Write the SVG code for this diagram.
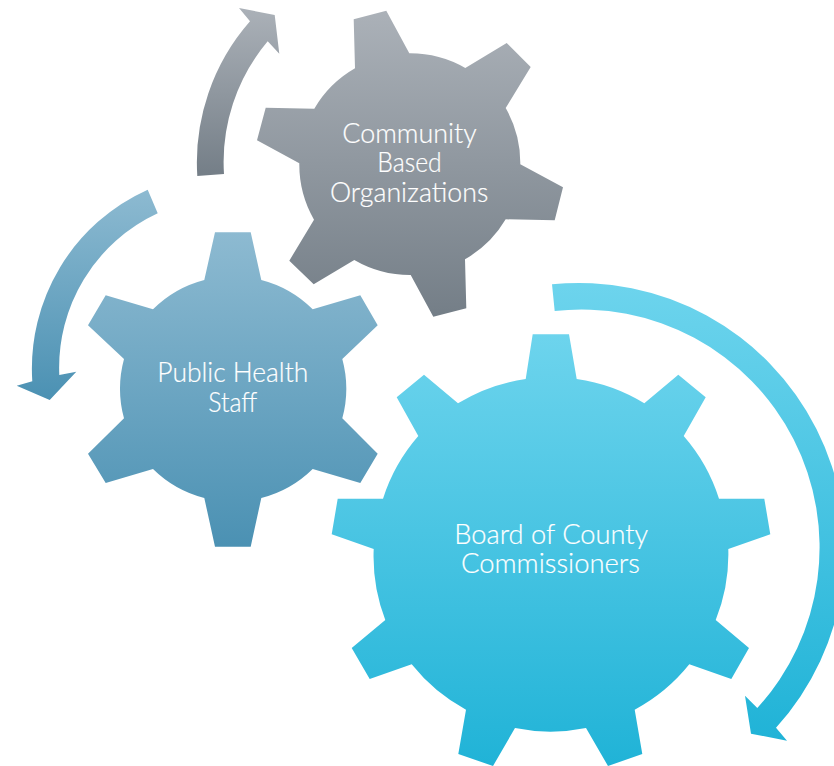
<svg xmlns="http://www.w3.org/2000/svg" width="834" height="766" viewBox="0 0 834 766">
<style>
.t{font-family:"Lato","Open Sans","Liberation Sans",sans-serif;font-size:27px;font-weight:300;fill:#fff;stroke:#fff;stroke-width:0.2px;}
.gray{fill:url(#gGray);}
.blue{fill:url(#gBlue);}
.light{fill:url(#gLight);}
</style>
<defs>
<linearGradient id="gGray" x1="0" y1="0" x2="0" y2="1"><stop offset="0" stop-color="#abb1b8"/><stop offset="1" stop-color="#747e87"/></linearGradient>
<linearGradient id="gBlue" x1="0" y1="0" x2="0" y2="1"><stop offset="0" stop-color="#8dbad1"/><stop offset="1" stop-color="#4b91b3"/></linearGradient>
<linearGradient id="gLight" x1="0" y1="0" x2="0" y2="1"><stop offset="0" stop-color="#6dd4ed"/><stop offset="1" stop-color="#20b3d7"/></linearGradient>
</defs>
<g id="connectors">
<path id="arrow-gray" class="gray" d="M197.3 176A214 214 0 0 1 250 21.3L239 8L274.7 15L279.3 53.7L267.7 41.3A187 187 0 0 0 224 174Z"/>
<path id="arrow-blue" class="blue" d="M147.7 189.7A196 196 0 0 0 32.3 381.3L16.7 385.7L49.7 400L76.3 371.7L59.3 375A170 170 0 0 1 157.7 213.3Z"/>
<path id="arrow-light" class="light" d="M552 284.3A266 266 0 0 1 776 727.7L787 740.7L751 733.7L745 695.7L757.3 708A238 238 0 0 0 554.7 311Z"/>
</g>
<g id="node-community">
<path class="gray" d="M353.7 19.3L386.3 10.7L409.3 53.3A111 111 0 0 1 465.3 68L506.7 43L530.7 67L505.7 108A111 111 0 0 1 520.3 164.3L563 187.3L554.7 220.3L505.7 219.3A111 111 0 0 1 465 259.3L466.3 308.3L433.3 316.7L410.7 275A111 111 0 0 1 354.3 260L313.7 284.3L289.3 260.7L314 219.7A111 111 0 0 1 299.3 163.3L257 140.3L265.7 107.7L314.3 108.7A111 111 0 0 1 355 68.3Z"/>
<text class="t" x="342.3" y="142.7" textLength="134.4" lengthAdjust="spacingAndGlyphs">Community</text>
<text class="t" x="377.3" y="172.3" textLength="64.4" lengthAdjust="spacingAndGlyphs">Based</text>
<text class="t" x="330" y="201.7" textLength="158.3" lengthAdjust="spacingAndGlyphs">Organizations</text>
</g>
<g id="node-public-health">
<path class="blue" d="M215 232.3L250.7 232.3L261.3 280A113 113 0 0 1 312.7 309.3L360.3 295.3L377.7 325.3L342.3 359A113 113 0 0 1 342.3 418.3L377.7 453.7L360.3 483L312.7 469A113 113 0 0 1 261.3 498L250.7 546.7L215 546.7L204.3 498A113 113 0 0 1 153 469L105.7 483L88 453.7L124 418.3A113 113 0 0 1 124 359L88 325.3L105.7 295.3L153 309.3A113 113 0 0 1 204.3 280Z"/>
<text class="t" x="157.3" y="381.7" textLength="151" lengthAdjust="spacingAndGlyphs">Public Health</text>
<text class="t" x="208.3" y="411.7" textLength="49" lengthAdjust="spacingAndGlyphs">Staff</text>
</g>
<g id="node-board">
<path class="light" d="M532.7 334.3L569 334.3L576.7 379A177 177 0 0 1 644.3 403.3L678.3 374.7L705.7 397.3L683.7 436A177 177 0 0 1 719 498.7L764.3 498.7L770.3 534.3L728.3 549A177 177 0 0 1 715.7 620L749 648L731.3 679L689.3 664.3A177 177 0 0 1 634.7 709.7L642.3 754L608 766L586 728A177 177 0 0 1 515 728L493 766L458.3 754L466 709.7A177 177 0 0 1 411.7 664.3L369.7 679L351.7 648L385.3 620A177 177 0 0 1 373.7 549L331.7 534.3L337.7 498.7L383 498.7A177 177 0 0 1 418.3 436L396.7 397.3L424 374.7L458 403.3A177 177 0 0 1 525.7 379Z"/>
<text class="t" x="454.3" y="544" textLength="194" lengthAdjust="spacingAndGlyphs">Board of County</text>
<text class="t" x="461" y="573.3" textLength="179" lengthAdjust="spacingAndGlyphs">Commissioners</text>
</g>
</svg>
